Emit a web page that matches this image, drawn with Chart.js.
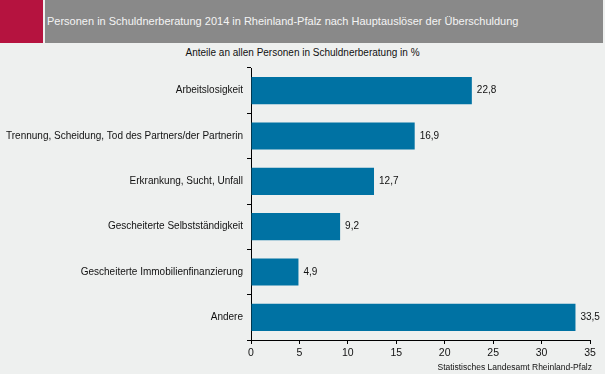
<!DOCTYPE html>
<html>
<head>
<meta charset="utf-8">
<script src="https://cdn.jsdelivr.net/npm/chart.js@4.4.0/dist/chart.umd.min.js"></script>
<style>
  html, body { margin: 0; padding: 0; background: #eef0ef; }
  #wrap { position: relative; width: 605px; height: 374px; overflow: hidden; font-family: "Liberation Sans", Arial, sans-serif; }
  #red { position: absolute; left: 0; top: 0; width: 43px; height: 43px; background: #b5133f; }
  #head { position: absolute; left: 45px; top: 0; width: 558px; height: 43px; background: #898989; color: #f4f4f4; font-size: 11px; line-height: 43px; padding-left: 2px; box-sizing: border-box; }
  #sub { position: absolute; left: 0; width: 605px; top: 47px; text-align: center; font-size: 10px; color: #111; }
  #src { position: absolute; right: 13px; top: 362px; font-size: 8.5px; color: #111; }
  canvas { position: absolute; left: 0; top: 0; }
</style>
</head>
<body>
<div id="wrap">
  <div id="red"></div>
  <div id="head">Personen in Schuldnerberatung 2014 in Rheinland-Pfalz nach Hauptauslöser der Überschuldung</div>
  <div id="sub">Anteile an allen Personen in Schuldnerberatung in %</div>
  <canvas id="myChart" width="605" height="374"></canvas>
  <div id="src">Statistisches Landesamt Rheinland-Pfalz</div>
</div>
<script>
const labels = [
  'Arbeitslosigkeit',
  'Trennung, Scheidung, Tod des Partners/der Partnerin',
  'Erkrankung, Sucht, Unfall',
  'Gescheiterte Selbstständigkeit',
  'Gescheiterte Immobilienfinanzierung',
  'Andere'
];
const values = [22.8, 16.9, 12.7, 9.2, 4.9, 33.5];
const xTicks = [0, 5, 10, 15, 20, 25, 30, 35];

// value labels right of each bar, German decimal comma
const valueLabels = {
  id: 'valueLabels',
  afterDatasetsDraw(chart) {
    const ctx = chart.ctx;
    const meta = chart.getDatasetMeta(0);
    ctx.save();
    ctx.font = '10px "Liberation Sans", Arial, sans-serif';
    ctx.fillStyle = '#111';
    ctx.textAlign = 'left';
    ctx.textBaseline = 'middle';
    meta.data.forEach((bar, i) => {
      ctx.fillText(values[i].toFixed(1).replace('.', ','), bar.x + 5, bar.y);
    });
    ctx.restore();
  }
};

const config = {
  type: 'bar',
  data: {
    labels: labels,
    datasets: [{
      data: values,
      backgroundColor: '#0072a3',
      borderWidth: 0,
      categoryPercentage: 0.6,
      barPercentage: 1
    }]
  },
  options: {
    indexAxis: 'y',
    responsive: false,
    animation: false,
    layout: { padding: { top: 68, right: 15, left: 0, bottom: 0 } },
    plugins: {
      legend: { display: false },
      tooltip: { enabled: false }
    },
    scales: {
      x: {
        min: 0,
        max: 35,
        afterBuildTicks: (scale) => { scale.ticks = xTicks.map(v => ({ value: v })); },
        afterFit: (scale) => { scale.height = 34; },
        border: { color: '#000', width: 1 },
        grid: { drawOnChartArea: false, color: '#000', tickLength: 4 },
        ticks: {
          color: '#111',
          padding: 3,
          maxRotation: 0,
          font: { family: '"Liberation Sans", Arial, sans-serif', size: 10.5 }
        }
      },
      y: {
        afterFit: (scale) => { scale.width = 251; },
        border: { color: '#000', width: 1 },
        grid: { drawOnChartArea: false, color: '#000', tickLength: 4, offset: true },
        ticks: {
          color: '#111',
          padding: 4,
          font: { family: '"Liberation Sans", Arial, sans-serif', size: 10 }
        }
      }
    }
  },
  plugins: [valueLabels]
};

const myChart = new Chart(document.getElementById('myChart'), config);
</script>
</body>
</html>
